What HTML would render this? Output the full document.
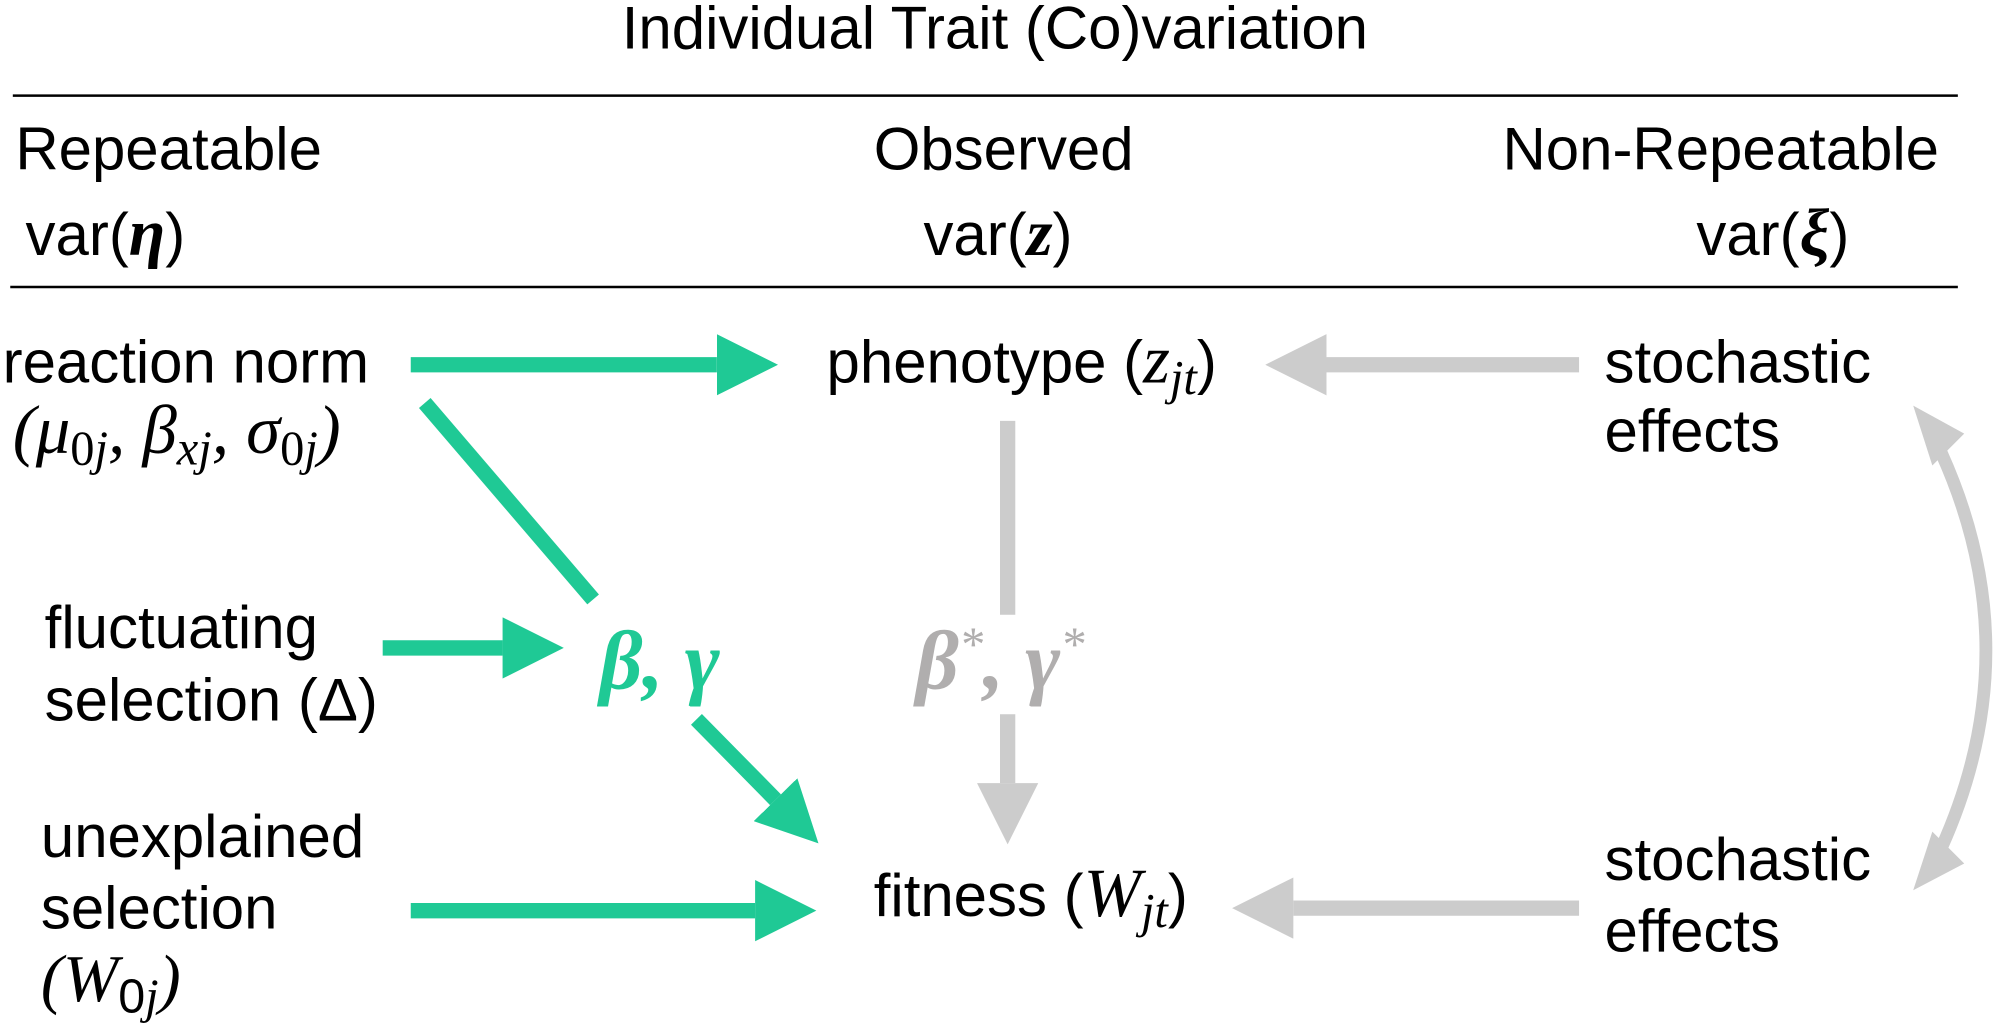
<!DOCTYPE html>
<html><head><meta charset="utf-8"><style>
html,body{margin:0;padding:0;background:#fff;}
svg{display:block;}
text{font-family:"Liberation Sans",sans-serif;fill:#000;}
.m{font-family:"Liberation Serif",serif;font-style:italic;}
</style></head><body>
<svg width="2000" height="1028" viewBox="0 0 1568 806" xmlns="http://www.w3.org/2000/svg" font-size="47">
<defs>
<marker id="g" markerWidth="4" markerHeight="4" refX="0" refY="2" orient="auto" markerUnits="strokeWidth"><path d="M0,0 L4,2 L0,4 Z" fill="#1fc995"/></marker>
<marker id="c" markerWidth="4" markerHeight="4" refX="0" refY="2" orient="auto" markerUnits="strokeWidth"><path d="M0,0 L4,2 L0,4 Z" fill="#cccccc"/></marker>
</defs>
<text x="780" y="38" text-anchor="middle">Individual Trait (Co)variation</text>
<line x1="10" y1="75" x2="1535" y2="75" stroke="#000" stroke-width="2"/>
<text x="12" y="133">Repeatable</text>
<text x="685" y="133">Observed</text>
<text x="1178" y="133">Non-Repeatable</text>
<text x="20" y="200">var(<tspan class="m" font-weight="bold" font-size="52">η</tspan>)</text>
<text x="724" y="200">var(<tspan class="m" font-weight="bold" font-size="52">z</tspan>)</text>
<text x="1330" y="200">var(<tspan class="m" font-weight="bold" font-size="52">ξ</tspan>)</text>
<line x1="8" y1="225" x2="1535" y2="225" stroke="#000" stroke-width="2"/>

<text x="2" y="300">reaction norm</text>
<text x="10" y="355" class="m" font-size="54">(μ<tspan font-size="38" dy="9" font-style="normal">0</tspan><tspan font-size="38">j</tspan><tspan dy="-9">, β</tspan><tspan font-size="38" dy="9">xj</tspan><tspan dy="-9">, σ</tspan><tspan font-size="38" dy="9" font-style="normal">0</tspan><tspan font-size="38">j</tspan><tspan dy="-9">)</tspan></text>
<text x="35" y="508">fluctuating</text>
<text x="35" y="565">selection (Δ)</text>
<text x="32" y="672">unexplained</text>
<text x="32" y="728">selection</text>
<text x="32" y="785"><tspan class="m" font-size="52">(W</tspan><tspan font-size="38" dy="9">0</tspan><tspan class="m" font-size="38">j</tspan><tspan class="m" font-size="52" dy="-9">)</tspan></text>

<text x="648" y="300">phenotype (<tspan class="m" font-size="54">z</tspan><tspan class="m" font-size="38" dy="9">jt</tspan><tspan dy="-9">)</tspan></text>
<text x="685" y="718">fitness (<tspan class="m" font-size="54">W</tspan><tspan class="m" font-size="38" dy="9">jt</tspan><tspan dy="-9">)</tspan></text>

<text x="1258" y="300">stochastic</text>
<text x="1258" y="354">effects</text>
<text x="1258" y="690">stochastic</text>
<text x="1258" y="746">effects</text>

<text x="470" y="540" class="m" font-weight="bold" style="font-size:66px;fill:#1fc995">β, γ</text>
<text x="718" y="540" class="m" font-weight="bold" style="font-size:66px;fill:#b0aeae">β<tspan style="font-size:38px" dy="-22" font-weight="normal">*</tspan><tspan dy="22">, γ</tspan><tspan style="font-size:38px" dy="-22" font-weight="normal">*</tspan></text>

<g stroke="#1fc995" stroke-width="12" fill="none">
<line x1="322" y1="286" x2="562" y2="286" marker-end="url(#g)"/>
<line x1="333" y1="316" x2="465" y2="470"/>
<line x1="300" y1="508" x2="394" y2="508" marker-end="url(#g)"/>
<line x1="546" y1="564" x2="608" y2="627" marker-end="url(#g)"/>
<line x1="322" y1="714" x2="592" y2="714" marker-end="url(#g)"/>
</g>
<g stroke="#cccccc" stroke-width="12" fill="none">
<line x1="790" y1="330" x2="790" y2="482"/>
<line x1="790" y1="560" x2="790" y2="614" marker-end="url(#c)"/>
<line x1="1238" y1="286" x2="1040" y2="286" marker-end="url(#c)"/>
<line x1="1238" y1="712" x2="1014" y2="712" marker-end="url(#c)"/>
<path d="M1522,355 Q1592,510 1522,665" stroke-width="10"/>
</g>
<path d="M1500,318 L1515,365 L1540,340 Z" fill="#cccccc"/>
<path d="M1500,698 L1515,652 L1540,677 Z" fill="#cccccc"/>
</svg>
</body></html>
